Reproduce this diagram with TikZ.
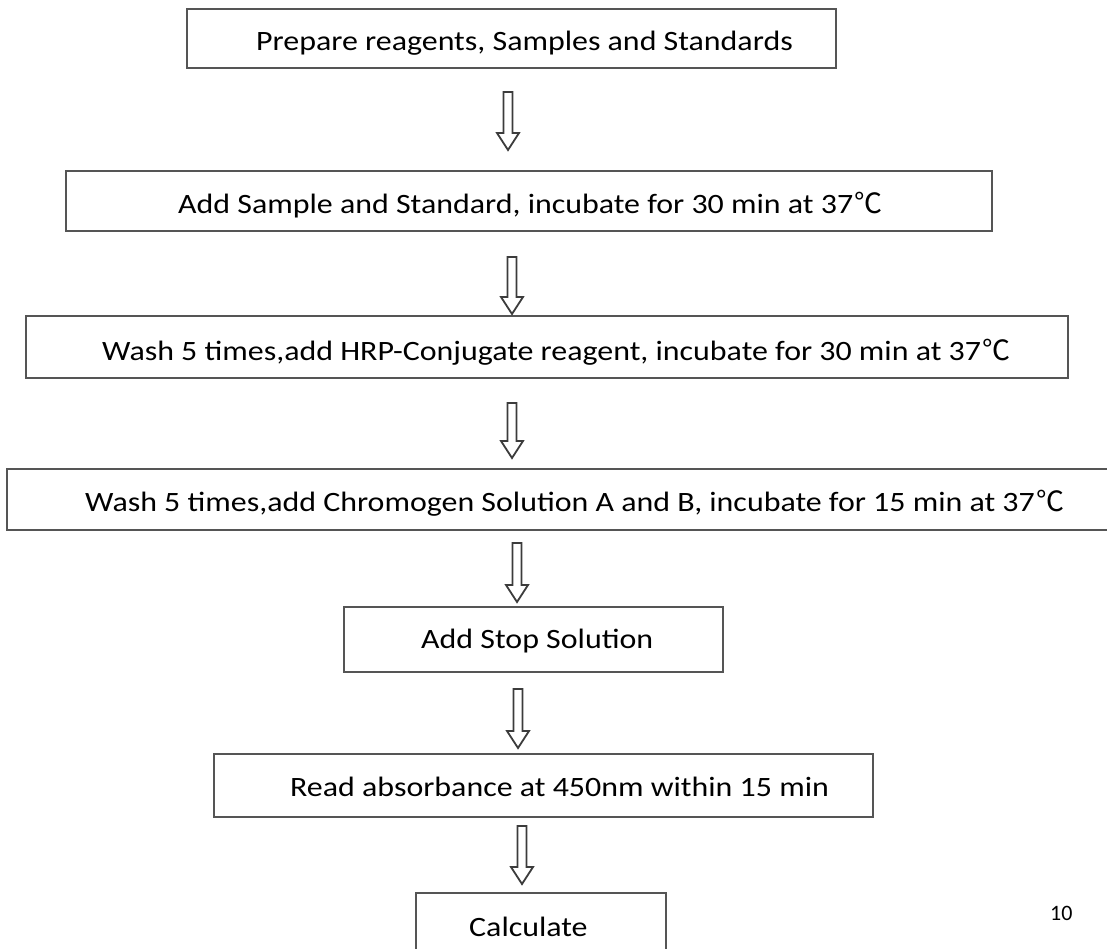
\documentclass[tikz,border=0pt]{standalone}
\usepackage{fontspec}
\setmainfont{Carlito}[FakeStretch=1.14]
\newfontfamily\plainfont{Carlito}
\newfontfamily\cjkfont{Noto Sans CJK SC}
\usetikzlibrary{calc}
\definecolor{boxgray}{HTML}{555555}
\definecolor{arrowgray}{HTML}{3C3C3C}
\newcommand\degc{\hspace{1pt}{\cjkfont ℃}}
\newcommand\hollowarrow[2]{%
  \draw[hollow] ($(#1)+(-4.5,0)$) -- ($(#2)+(-4.5,-17)$) -- ($(#2)+(-11,-17)$) -- (#2)
    -- ($(#2)+(11,-17)$) -- ($(#2)+(4.5,-17)$) -- ($(#1)+(4.5,0)$) -- cycle;}
\begin{document}
\begin{tikzpicture}[x=1pt,y=-1pt,
  stepbox/.style={draw=boxgray, line width=1.5pt, inner sep=0pt, rectangle},
  steptext/.style={anchor=base west, inner sep=0pt, text=black, font=\fontsize{28}{34}\selectfont},
  hollow/.style={draw=arrowgray, line width=1.8pt, line join=miter, fill=white}]
\useasboundingbox[fill=white] (0,0) rectangle (1107,948);

% boxes
\node[stepbox, minimum width=649pt, minimum height=59pt] (b1) at (511.5,38.5) {};
\node[stepbox, minimum width=926pt, minimum height=60pt] (b2) at (529,201) {};
\node[stepbox, minimum width=1042pt, minimum height=62pt] (b3) at (547,347) {};
\node[stepbox, minimum width=1113pt, minimum height=61pt] (b4) at (563.5,499.5) {};
\node[stepbox, minimum width=379pt, minimum height=65pt] (b5) at (533.5,639.5) {};
\node[stepbox, minimum width=659pt, minimum height=63pt] (b6) at (543.5,785.5) {};
\node[stepbox, minimum width=250pt, minimum height=67pt] (b7) at (541,926.5) {};

% texts
\node[steptext] (t1) at (256,50) {Prepare reagents, Samples and Standards};
\node[steptext] (t2) at (178,213) {Add Sample and Standard, incubate for 30 min at 37\degc};
\node[steptext] (t3) at (102,360) {Wash 5 times,add HRP-Conjugate reagent, incubate for 30 min at 37\degc};
\node[steptext] (t4) at (85,511) {Wash 5 times,add Chromogen Solution A and B, incubate for 15 min at 37\degc};
\node[steptext] (t5) at (421,648) {Add Stop Solution};
\node[steptext] (t6) at (290,796) {Read absorbance at 450nm within 15 min};
\node[steptext] (t7) at (469,936) {Calculate};
\node[anchor=base west, inner sep=0pt, font=\plainfont\fontsize{22}{26}\selectfont] (pg) at (1050,920) {10};

% arrows
\coordinate (a1s) at (508,92);  \coordinate (a1e) at (508,150);
\coordinate (a2s) at (512,257); \coordinate (a2e) at (512,314);
\coordinate (a3s) at (512,403); \coordinate (a3e) at (512,458);
\coordinate (a4s) at (517,543); \coordinate (a4e) at (517,602);
\coordinate (a5s) at (518,689); \coordinate (a5e) at (518,748);
\coordinate (a6s) at (522,826); \coordinate (a6e) at (522,884);
\hollowarrow{a1s}{a1e}
\hollowarrow{a2s}{a2e}
\hollowarrow{a3s}{a3e}
\hollowarrow{a4s}{a4e}
\hollowarrow{a5s}{a5e}
\hollowarrow{a6s}{a6e}
\end{tikzpicture}
\end{document}
